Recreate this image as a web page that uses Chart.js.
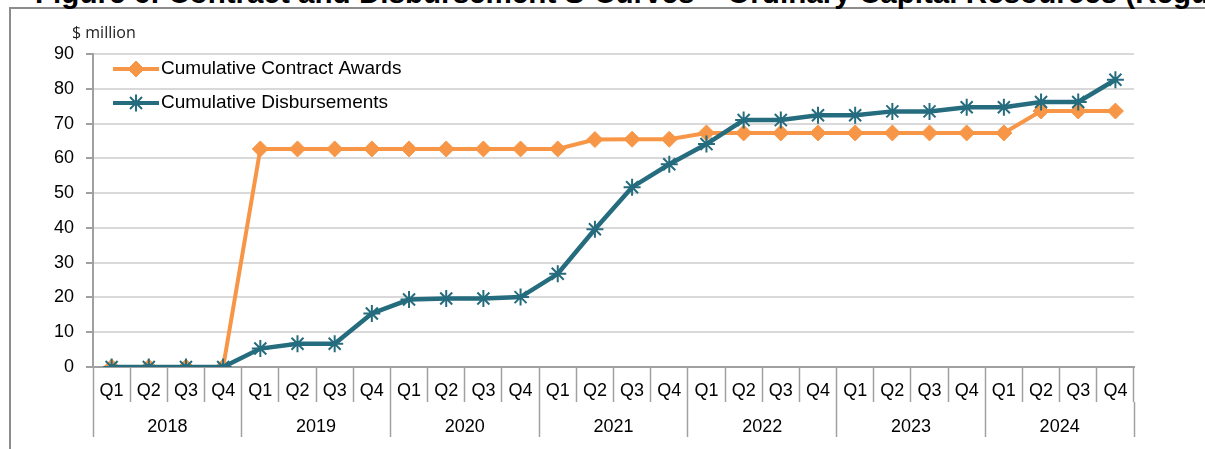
<!DOCTYPE html>
<html>
<head>
<meta charset="utf-8">
<script src="https://cdn.jsdelivr.net/npm/chart.js@4.4.1/dist/chart.umd.min.js"></script>
<style>
  html, body { margin: 0; padding: 0; background: #fff; overflow: hidden; }
  #wrap { position: relative; width: 1205px; height: 449px; overflow: hidden; }
  #frame { position: absolute; left: 9px; top: 7px; width: 1400px; height: 600px; border: 2px solid #8c8c8c; }
  #title { position: absolute; left: 35px; top: -22px; font: bold 29.6px "Liberation Sans", Arial, sans-serif; line-height: 30px; white-space: nowrap; color: #000; }
  #chart { position: absolute; left: 0; top: 0; }
</style>
</head>
<body>
<div id="wrap">
  <div id="frame"></div>
  <div id="title">Figure 6: Contract and Disbursement S-Curves – Ordinary Capital Resources (Regular)</div>
  <canvas id="chart" width="1205" height="449"></canvas>
</div>
<script>
// quarterly cumulative figures, $ million
const years = ['2018', '2019', '2020', '2021', '2022', '2023', '2024'];
const quarters = ['Q1', 'Q2', 'Q3', 'Q4'];
const contractAwards = [
    0, 0, 0, 0,
    62.7, 62.7, 62.7, 62.7,
    62.7, 62.7, 62.7, 62.7,
    62.7, 65.4, 65.5, 65.5,
    67.3, 67.3, 67.3, 67.3,
    67.3, 67.3, 67.3, 67.3,
    67.3, 73.6, 73.6, 73.6
];
const disbursements = [
    0, 0, 0, 0,
    5.3, 6.7, 6.7, 15.4,
    19.4, 19.7, 19.7, 20.1,
    26.8, 39.6, 51.7, 58.3,
    64.1, 71.0, 71.0, 72.4,
    72.4, 73.5, 73.5, 74.7,
    74.7, 76.2, 76.2, 82.6
];
const yMin = 0, yMax = 90, yStep = 10;

const labels = years.flatMap(() => quarters);
const ORANGE = '#F79646';
const TEAL = '#246C7E';
const AXIS = '#a0a0a0';

Chart.defaults.font.family = '"Liberation Sans", Arial, sans-serif';
Chart.defaults.font.size = 18;
Chart.defaults.color = '#000';

// unit label + excel style legend (line with marker) inside the plot
const extras = {
    id: 'extras',
    afterDraw(chart) {
        const {ctx, chartArea} = chart;
        ctx.save();
        ctx.font = '16px "Open Sans", sans-serif';
        ctx.fillStyle = '#222';
        ctx.textBaseline = 'middle';
        ctx.textAlign = 'left';
        ctx.fillText('$ million', 72, chartArea.top - 21);

        chart.data.datasets.forEach((ds, i) => {
            const y = chartArea.top + 15 + i * 34;
            const x0 = chartArea.left + 20, x1 = chartArea.left + 66;
            ctx.strokeStyle = ds.borderColor;
            ctx.lineWidth = 4;
            ctx.beginPath();
            ctx.moveTo(x0, y);
            ctx.lineTo(x1, y);
            ctx.stroke();
            ctx.fillStyle = ds.pointBackgroundColor;
            ctx.strokeStyle = ds.pointBorderColor;
            ctx.lineWidth = ds.pointBorderWidth;
            Chart.helpers.drawPoint(ctx, {
                pointStyle: ds.pointStyle,
                radius: ds.pointRadius,
                borderWidth: ds.pointBorderWidth,
                rotation: 0
            }, (x0 + x1) / 2, y);
            ctx.fillStyle = '#000';
            ctx.font = '19px "Liberation Sans", Arial, sans-serif';
            ctx.fillText(ds.label, x1 + 2, y);
        });
        ctx.restore();
    }
};

new Chart(document.getElementById('chart'), {
    type: 'line',
    data: {
        labels: labels,
        datasets: [
            {
                label: 'Cumulative Contract Awards',
                data: contractAwards,
                borderColor: ORANGE,
                backgroundColor: ORANGE,
                borderWidth: 4,
                pointStyle: 'rectRot',
                pointRadius: 8,
                pointBackgroundColor: ORANGE,
                pointBorderColor: ORANGE,
                pointBorderWidth: 1,
                tension: 0,
                order: 2
            },
            {
                label: 'Cumulative Disbursements',
                data: disbursements,
                borderColor: TEAL,
                backgroundColor: TEAL,
                borderWidth: 4.5,
                pointStyle: 'star',
                pointRadius: 8.5,
                pointBackgroundColor: TEAL,
                pointBorderColor: TEAL,
                pointBorderWidth: 2,
                tension: 0,
                order: 1
            }
        ]
    },
    options: {
        responsive: false,
        animation: false,
        layout: {
            padding: {left: 42, top: 54, right: 71, bottom: 3}
        },
        plugins: {
            legend: {display: false},
            tooltip: {enabled: false}
        },
        scales: {
            y: {
                min: yMin,
                max: yMax,
                ticks: {stepSize: yStep, padding: 12, color: '#000'},
                grid: {color: '#d9d9d9', lineWidth: 2, tickLength: 7, tickColor: AXIS, tickWidth: 2},
                border: {color: AXIS, width: 2}
            },
            x: {
                offset: true,
                weight: 0,
                grid: {offset: true, drawOnChartArea: false, tickLength: 35, tickColor: AXIS, tickWidth: 1.5},
                border: {color: AXIS, width: 2},
                ticks: {padding: -22, maxRotation: 0, autoSkip: false, color: '#000'},
                afterFit(scale) { scale.height = 35; }
            },
            x2: {
                type: 'category',
                labels: years,
                position: 'bottom',
                offset: true,
                weight: 1,
                grid: {offset: true, drawOnChartArea: false, tickLength: 35, tickColor: AXIS, tickWidth: 1.5},
                border: {display: false},
                ticks: {padding: -21, maxRotation: 0, autoSkip: false, color: '#000'},
                afterFit(scale) { scale.height = 44; }
            }
        }
    },
    plugins: [extras]
});
</script>
</body>
</html>
